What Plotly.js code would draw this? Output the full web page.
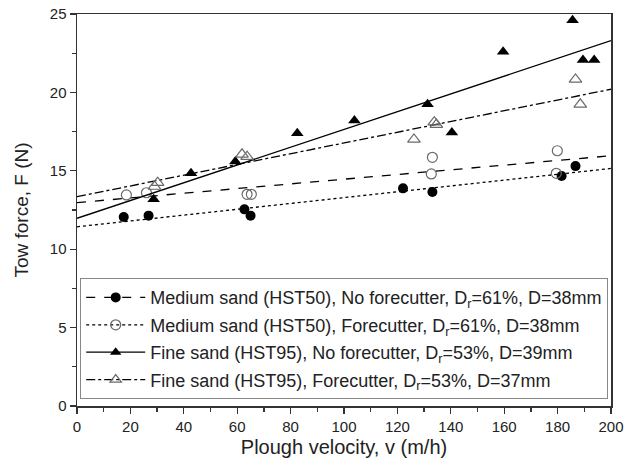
<!DOCTYPE html>
<html>
<head>
<meta charset="utf-8">
<script src="https://cdn.plot.ly/plotly-3.0.1.min.js"></script>
<style>html,body{margin:0;padding:0;background:#fff;}#chart{width:635px;height:465px;}</style>
</head>
<body>
<div id="chart"></div>
<script>
// ---- data ----
const seriesNames = [
  "Medium sand (HST50), No forecutter, D<sub>r</sub>=61%, D=38mm",
  "Medium sand (HST50), Forecutter, D<sub>r</sub>=61%, D=38mm",
  "Fine sand (HST95), No forecutter, D<sub>r</sub>=53%, D=39mm",
  "Fine sand (HST95), Forecutter, D<sub>r</sub>=53%, D=37mm"
];
const medNoX = [17.5, 26.8, 62.7, 65.0, 122.1, 133.1, 181.5, 186.7];
const medNoY = [12.05, 12.14, 12.54, 12.14, 13.88, 13.65, 14.67, 15.3];
const medFcX = [18.5, 26.0, 63.7, 65.3, 132.7, 133.1, 179.5, 179.9];
const medFcY = [13.46, 13.6, 13.5, 13.5, 14.8, 15.86, 14.84, 16.28];
const fineNoX = [28.7, 42.7, 59.3, 82.5, 103.9, 131.3, 140.4, 159.6, 185.6, 189.5, 193.7];
const fineNoY = [13.18, 14.84, 15.6, 17.4, 18.2, 19.24, 17.45, 22.6, 24.6, 22.07, 22.07];
const fineFcX = [29.0, 30.2, 61.8, 63.7, 126.2, 133.8, 134.6, 186.7, 188.5];
const fineFcY = [14.0, 14.24, 16.05, 15.9, 17.0, 18.1, 17.95, 20.83, 19.24];
// linear fit lines: value at v=0 and v=200
const fitX = [0, 200];
const medNoFit = [12.97, 15.96];
const medFcFit = [11.43, 15.15];
const fineNoFit = [11.97, 23.3];
const fineFcFit = [13.35, 20.2];
const xTicks = [0, 20, 40, 60, 80, 100, 120, 140, 160, 180, 200];
const yTicks = [0, 5, 10, 15, 20, 25];

const GREY = '#6a6a6a';
const styles = [
  {dash: 'dash', sym: 'circle', color: '#000', lineColor: '#000', open: false},
  {dash: 'dot', sym: 'circle-open', color: GREY, lineColor: '#000', open: true},
  {dash: 'solid', sym: 'triangle-up', color: '#000', lineColor: '#000', open: false},
  {dash: 'dashdot', sym: 'triangle-up-open', color: GREY, lineColor: '#000', open: true}
];
const pts = [[medNoX, medNoY], [medFcX, medFcY], [fineNoX, fineNoY], [fineFcX, fineFcY]];
const fits = [medNoFit, medFcFit, fineNoFit, fineFcFit];
const sizes = [10, 10, 11, 11];

const traces = [];
for (let i = 0; i < 4; i++) {
  const s = styles[i];
  traces.push({
    x: fitX, y: fits[i], mode: 'lines', type: 'scatter', showlegend: false, hoverinfo: 'skip',
    line: {color: s.lineColor, width: 1.3, dash: s.dash}
  });
  traces.push({
    x: pts[i][0], y: pts[i][1], mode: 'markers', type: 'scatter', showlegend: false,
    marker: {symbol: s.sym, size: sizes[i], color: s.color, line: {color: s.color, width: s.open ? 1.2 : 0}}
  });
}
// legend entries (line + marker combined), kept outside the visible range
for (let i = 0; i < 4; i++) {
  const s = styles[i];
  traces.push({
    x: [-1000, -999], y: [-1000, -999], mode: 'lines+markers', type: 'scatter',
    name: seriesNames[i], legendgroup: 'g' + i,
    line: {color: s.lineColor, width: 1.3, dash: s.dash},
    marker: {symbol: s.sym, size: 10, color: s.color, line: {color: s.color, width: s.open ? 1.2 : 0}}
  });
}

const axisCommon = {
  showline: true, mirror: true, linecolor: '#333', linewidth: 1.5,
  showgrid: false, zeroline: false, ticks: 'outside', ticklen: 6, tickwidth: 1.3, tickcolor: '#333',
  tickfont: {size: 15, color: '#222'}
};
const layout = {
  width: 635, height: 465,
  margin: {l: 77, r: 24, t: 14, b: 59},
  paper_bgcolor: '#fff', plot_bgcolor: '#fff',
  font: {family: 'Liberation Sans, Arial, sans-serif', color: '#222'},
  xaxis: Object.assign({}, axisCommon, {
    range: [0, 200], tickmode: 'array', tickvals: xTicks,
    minor: {dtick: 10, ticks: 'outside', ticklen: 4, tickwidth: 1.3, tickcolor: '#333'},
    title: {text: 'Plough velocity, v (m/h)', font: {size: 20, color: '#222'}, standoff: 6}
  }),
  yaxis: Object.assign({}, axisCommon, {
    range: [0, 25], tickmode: 'array', tickvals: yTicks,
    minor: {dtick: 2.5, ticks: 'outside', ticklen: 4, tickwidth: 1.3, tickcolor: '#333'},
    title: {text: 'Tow force, F (N)', font: {size: 19, color: '#222'}, standoff: 16}
  }),
  showlegend: true,
  legend: {
    x: 0.006, y: 0.326, xanchor: 'left', yanchor: 'top',
    bgcolor: '#fff', bordercolor: '#888', borderwidth: 1,
    font: {size: 18, color: '#222'}, itemwidth: 59, traceorder: 'grouped', tracegroupgap: 1
  }
};
Plotly.newPlot('chart', traces, layout, {staticPlot: true});
</script>
</body>
</html>
